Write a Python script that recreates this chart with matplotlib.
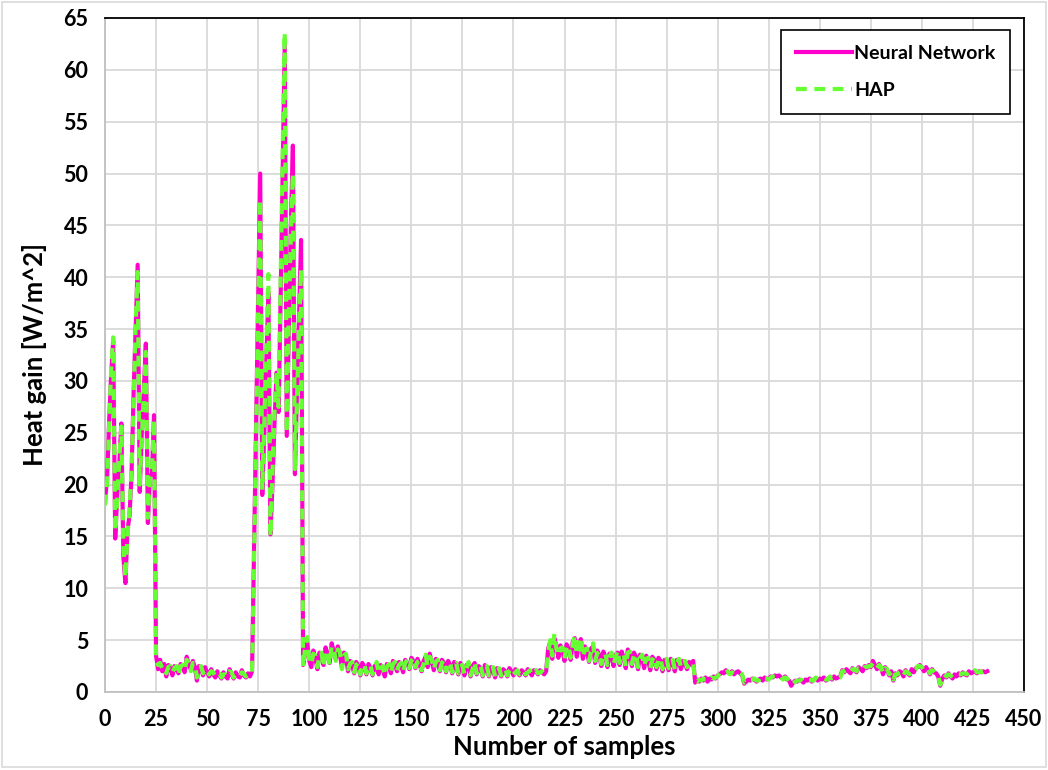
import numpy as np
import matplotlib
matplotlib.use("Agg")
import matplotlib.pyplot as plt
from matplotlib.patches import Rectangle

# ---- data (x = sample index 0..432) ----
neural_network = [
    18.4, 20.5, 26, 30.5, 33.9, 14.8, 19, 22, 25.9, 13,
    10.5, 15.6, 17, 21, 28.8, 35, 41.2, 19.3, 25, 29,
    33.6, 16.3, 20.8, 21, 26.7, 3.5, 2.2, 3.1, 2.0, 2.7,
    1.5, 2.6, 2.3, 1.6, 2.5, 2.2, 1.8, 2.7, 2.4, 1.9,
    3.4, 2.6, 2.2, 3.0, 2.4, 1.1, 2.5, 2.3, 1.6, 2.4,
    1.9, 1.5, 2.2, 1.7, 1.4, 2.0, 1.6, 1.3, 1.9, 1.5,
    1.3, 2.2, 1.7, 1.3, 1.9, 1.5, 1.4, 2.1, 1.6, 1.4,
    1.8, 1.5, 2.0, 14, 26, 38, 50, 19, 25, 32,
    38.5, 15.2, 20, 26, 30.8, 27, 38, 50, 62.3, 24.7,
    35, 45, 52.7, 21, 29, 36, 43.6, 2.6, 3.8, 4.8,
    3.0, 2.4, 4.0, 3.2, 2.2, 3.8, 3.5, 2.6, 4.3, 3.6,
    2.8, 4.7, 3.9, 3.2, 4.4, 3.6, 2.4, 3.8, 3.4, 2.0,
    3.0, 2.6, 1.8, 2.9, 2.5, 1.6, 2.8, 2.4, 1.7, 2.7,
    2.3, 1.6, 2.5, 2.6, 1.7, 2.6, 2.2, 1.5, 2.7, 2.4,
    1.8, 3.0, 2.6, 2.0, 2.9, 2.5, 1.9, 3.1, 2.8, 2.2,
    3.3, 3.0, 2.3, 3.2, 2.7, 2.0, 3.0, 3.4, 2.4, 3.7,
    2.9, 2.1, 3.2, 2.8, 2.0, 3.1, 2.8, 1.9, 3.0, 2.6,
    1.8, 2.9, 2.5, 1.7, 2.8, 2.3, 1.6, 2.6, 2.7, 1.5,
    2.5, 2.8, 1.7, 2.5, 2.2, 1.5, 2.6, 2.2, 1.5, 2.4,
    2.1, 1.4, 2.3, 2.0, 1.5, 2.2, 2.0, 1.5, 2.3, 2.0,
    1.6, 2.2, 1.9, 1.6, 2.1, 1.9, 1.6, 2.2, 1.9, 1.6,
    2.1, 2.0, 1.7, 2.1, 1.9, 1.7, 2.0, 4.2, 4.8, 3.2,
    5.2, 4.5, 3.3, 4.5, 4.0, 3.0, 4.6, 4.2, 3.1, 4.8,
    5.2, 3.4, 4.5, 5.1, 3.2, 4.4, 3.9, 2.9, 4.2, 4.4,
    2.8, 4.0, 3.6, 2.5, 3.9, 3.4, 2.4, 3.7, 3.5, 2.5,
    3.6, 3.8, 2.6, 3.9, 3.3, 2.3, 4.1, 3.6, 2.5, 3.8,
    3.4, 2.2, 3.6, 3.3, 2.3, 3.5, 3.0, 2.1, 3.4, 3.1,
    2.2, 3.3, 3.0, 2.0, 3.1, 2.9, 2.1, 3.2, 2.8, 2.0,
    3.1, 2.9, 2.2, 3.0, 2.7, 2.2, 2.9, 2.6, 3.0, 0.9,
    1.2, 1.0, 1.3, 1.1, 1.4, 1.0, 1.3, 1.2, 1.5, 1.3,
    1.6, 1.7, 1.9, 1.8, 2.1, 1.9, 1.8, 2.0, 1.7, 1.9,
    2.0, 1.8, 1.6, 0.8, 1.0, 1.2, 1.1, 1.3, 1.2, 1.0,
    1.2, 1.3, 1.1, 1.4, 1.2, 1.3, 1.5, 1.4, 1.6, 1.5,
    1.6, 1.4, 1.3, 1.5, 1.2, 1.1, 0.6, 0.9, 1.1, 1.0,
    1.2, 1.1, 0.9, 1.2, 1.1, 1.3, 1.0, 1.2, 1.3, 1.1,
    1.3, 1.2, 1.4, 1.1, 1.3, 1.4, 1.2, 1.5, 1.3, 1.4,
    1.5, 2.1, 1.9, 2.2, 2.0, 1.8, 2.3, 2.1, 1.9, 2.4,
    2.2, 2.0, 2.5, 2.3, 2.6, 2.4, 3.0, 2.6, 2.2, 2.7,
    2.3, 1.7, 2.4, 2.1, 1.6, 2.0, 1.1, 1.8, 1.6, 2.0,
    1.9, 1.5, 2.1, 1.8, 1.6, 2.2, 1.9, 2.3, 2.4, 2.6,
    2.3, 2.0, 2.4, 2.1, 1.7, 2.2, 1.9, 1.8, 1.5, 0.6,
    1.3, 1.6, 1.4, 1.8, 1.5, 1.3, 1.7, 1.5, 1.8, 1.6,
    1.9, 1.7, 1.6, 2.0, 1.8, 1.9, 2.0, 1.8, 2.0, 1.9,
    2.0, 1.9, 2.0,
]

hap = [
    18.0, 20.0, 25.5, 31, 34.2, 15.5, 18.5, 22.5, 25.6, 14,
    11.0, 15.2, 17.5, 21.5, 28.0, 35.5, 40.5, 20.0, 24.5, 28.5,
    32.8, 16.8, 20.5, 21.5, 26.3, 3.0, 2.6, 2.8, 2.3, 2.4,
    1.8, 2.4, 2.5, 1.9, 2.3, 2.5, 1.6, 2.5, 2.6, 2.1,
    3.1, 2.8, 2.0, 2.8, 2.7, 1.4, 2.2, 2.5, 1.8, 2.2,
    2.1, 1.7, 2.0, 1.9, 1.5, 1.8, 1.8, 1.4, 1.7, 1.7,
    1.5, 2.0, 1.9, 1.4, 1.7, 1.7, 1.5, 1.9, 1.8, 1.5,
    1.7, 1.7, 1.8, 13, 25, 37, 47.5, 19.5, 26, 33,
    40.3, 15.0, 21, 27, 30.8, 27.5, 40, 52, 63.6, 25,
    36, 44, 50, 21.5, 28, 35, 40.8, 2.4, 4.3, 5.3,
    2.8, 2.7, 3.7, 3.5, 2.4, 3.5, 3.8, 2.4, 4.0, 3.9,
    2.6, 4.4, 4.2, 3.0, 4.1, 3.9, 2.2, 3.5, 3.7, 2.2,
    2.7, 2.9, 1.9, 2.6, 2.8, 1.7, 2.5, 2.7, 1.8, 2.4,
    2.6, 1.7, 2.2, 2.9, 1.8, 2.3, 2.5, 1.6, 2.4, 2.7,
    1.9, 2.7, 2.9, 2.1, 2.6, 2.8, 2.0, 2.8, 3.1, 2.3,
    3.0, 3.3, 2.4, 2.9, 3.0, 2.1, 2.7, 3.6, 2.5, 3.4,
    3.1, 2.2, 2.9, 3.1, 2.1, 2.8, 3.1, 2.0, 2.7, 2.9,
    1.9, 2.6, 2.8, 1.8, 2.5, 2.6, 1.7, 2.3, 2.9, 1.6,
    2.2, 2.9, 1.8, 2.2, 2.5, 1.6, 2.3, 2.5, 1.6, 2.1,
    2.4, 1.5, 2.0, 2.3, 1.6, 1.9, 2.2, 1.6, 2.0, 2.2,
    1.7, 1.9, 2.1, 1.7, 1.8, 2.1, 1.7, 1.9, 2.1, 1.7,
    1.8, 2.1, 1.8, 1.9, 2.0, 1.8, 1.9, 3.8, 5.0, 3.5,
    5.6, 4.2, 3.5, 4.2, 4.3, 3.2, 4.3, 4.5, 3.3, 4.5,
    5.5, 3.6, 4.2, 5.3, 3.4, 4.1, 4.2, 3.0, 3.9, 4.7,
    3.0, 3.7, 3.9, 2.7, 3.6, 3.7, 2.6, 3.4, 3.8, 2.7,
    3.3, 4.0, 2.8, 3.6, 3.6, 2.5, 3.8, 3.9, 2.7, 3.5,
    3.7, 2.4, 3.3, 3.6, 2.5, 3.2, 3.3, 2.3, 3.1, 3.4,
    2.4, 3.0, 3.3, 2.2, 2.8, 3.2, 2.3, 2.9, 3.1, 2.2,
    2.8, 3.2, 2.4, 2.7, 3.0, 2.4, 2.6, 2.9, 2.8, 1.1,
    1.0, 1.2, 1.1, 1.3, 1.2, 1.2, 1.1, 1.4, 1.3, 1.4,
    1.5, 1.8, 1.8, 2.0, 1.9, 2.0, 1.7, 1.9, 1.8, 1.8,
    1.9, 1.9, 1.7, 0.9, 1.1, 1.1, 1.2, 1.2, 1.3, 1.1,
    1.1, 1.4, 1.2, 1.3, 1.3, 1.2, 1.4, 1.5, 1.5, 1.6,
    1.5, 1.5, 1.2, 1.4, 1.3, 1.0, 0.7, 0.8, 1.0, 1.1,
    1.1, 1.2, 1.0, 1.1, 1.2, 1.2, 1.1, 1.1, 1.4, 1.2,
    1.2, 1.3, 1.3, 1.2, 1.2, 1.5, 1.3, 1.4, 1.4, 1.3,
    1.4, 2.0, 2.0, 2.1, 2.1, 1.9, 2.2, 2.2, 2.0, 2.3,
    2.3, 2.1, 2.4, 2.4, 2.5, 2.5, 2.8, 2.7, 2.3, 2.6,
    2.4, 1.8, 2.3, 2.2, 1.7, 1.9, 1.2, 1.7, 1.7, 1.9,
    2.0, 1.6, 2.0, 1.9, 1.7, 2.1, 2.0, 2.2, 2.5, 2.5,
    2.4, 2.1, 2.3, 2.2, 1.8, 2.1, 2.0, 1.7, 1.6, 0.7,
    1.2, 1.7, 1.5, 1.7, 1.6, 1.4, 1.6, 1.6, 1.7, 1.7,
    1.8, 1.8, 1.7, 1.9, 1.9, 1.8, 2.1, 1.9, 1.9, 2.0,
    1.9, 2.0, 2.0,
]

x_ticks = list(range(0, 451, 25))
y_ticks = list(range(0, 66, 5))
x_label = "Number of samples"
y_label = "Heat gain [W/m^2]"
series_names = ["Neural Network", "HAP"]

samples = np.arange(len(neural_network))

FONT = ["Lato", "DejaVu Sans"]
plt.rcParams["font.family"] = FONT

fig = plt.figure(figsize=(10.48, 7.70), dpi=100)
ax = fig.add_axes([105 / 1048, 1 - 692 / 770, (1024 - 105) / 1048, (692 - 18) / 770])

ax.plot(samples, neural_network, color="#FF00CC", lw=3.0, label=series_names[0],
        solid_joinstyle="round", zorder=3)
ax.plot(samples, hap, color="#66FF33", lw=3.0, ls=(0, (2.6, 1.8)), label=series_names[1],
        zorder=4)

ax.set_xlim(0, 450)
ax.set_ylim(0, 65)
ax.set_xticks(x_ticks)
ax.set_yticks(y_ticks)
ax.grid(True, color="#d9d9d9", lw=1.3)
ax.set_axisbelow(True)
ax.tick_params(length=0, labelsize=15.5, pad=12)
for lbl in ax.get_xticklabels() + ax.get_yticklabels():
    lbl.set_fontweight("bold")

for side in ("left", "bottom"):
    ax.spines[side].set_color("#bfbfbf")
    ax.spines[side].set_linewidth(1.3)
for side in ("top", "right"):
    ax.spines[side].set_color("black")
    ax.spines[side].set_linewidth(1.3)

ax.set_xlabel(x_label, fontsize=18.5, fontweight="bold", labelpad=4)
ax.set_ylabel(y_label, fontsize=18.5, fontweight="bold", labelpad=12)

leg = ax.legend(loc="upper right", bbox_to_anchor=(0.985, 0.982),
                prop={"weight": "bold", "size": 14, "family": FONT},
                frameon=True, fancybox=False, edgecolor="black", framealpha=1,
                handlelength=2.9, handletextpad=0.12, labelspacing=1.05,
                borderpad=0.75, borderaxespad=0)
leg.get_frame().set_linewidth(1.2)

fig.patches.append(Rectangle((0.002, 0.004), 0.996, 0.993, transform=fig.transFigure,
                             fill=False, edgecolor="#d9d9d9", lw=1.2))

fig.savefig("out.png", dpi=100)
